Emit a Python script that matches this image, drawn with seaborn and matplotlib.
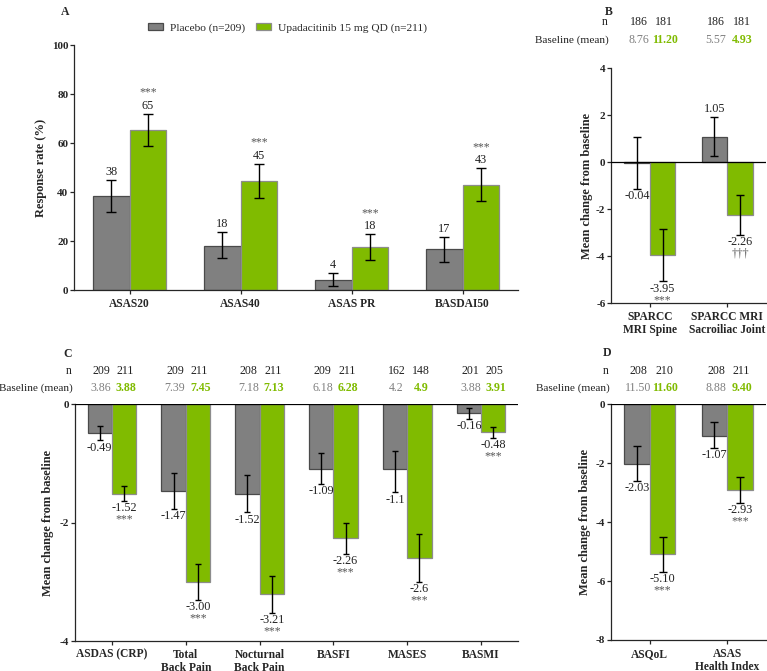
import numpy as np
import pandas as pd
import matplotlib
matplotlib.use('Agg')
import matplotlib.pyplot as plt
import matplotlib.transforms as mtransforms
from matplotlib.patches import Patch
import seaborn as sns

sns.set_style('ticks')
plt.rcParams['font.family'] = ['Liberation Serif', 'DejaVu Serif']
plt.rcParams['axes.linewidth'] = 0.9
plt.rcParams['xtick.major.width'] = 0.9
plt.rcParams['ytick.major.width'] = 0.9
plt.rcParams['xtick.major.size'] = 3
plt.rcParams['ytick.major.size'] = 3

grey = '#808080'
green = '#80bb00'
groups = ['Placebo (n=209)', 'Upadacitinib 15 mg QD (n=211)']

# Panel A - response rates
a_cats = ['ASAS20', 'ASAS40', 'ASAS PR', 'BASDAI50']
a_pbo = [38.2, 18.0, 4.2, 16.7]
a_upa = [65.3, 44.5, 17.5, 43.0]
a_pbo_lo = [31.7, 12.9, 1.6, 11.6]
a_pbo_hi = [44.9, 23.5, 7.1, 21.8]
a_upa_lo = [58.9, 37.7, 12.2, 36.3]
a_upa_hi = [71.8, 51.4, 22.7, 49.7]
a_pbo_lab = ['38', '18', '4', '17']
a_upa_lab = ['65', '45', '18', '43']
a_sig = ['***', '***', '***', '***']

# Panel B - MRI
b_cats = ['SPARCC\nMRI Spine', 'SPARCC MRI\nSacroiliac Joint']
b_pbo = [-0.04, 1.05]
b_upa = [-3.95, -2.26]
b_pbo_lo = [-1.13, 0.24]
b_pbo_hi = [1.08, 1.90]
b_upa_lo = [-5.08, -3.09]
b_upa_hi = [-2.84, -1.42]
b_pbo_lab = ['-0.04', '1.05']
b_upa_lab = ['-3.95', '-2.26']
b_sig = ['***', '†††']
b_n_pbo = ['186', '186']
b_n_upa = ['181', '181']
b_base_pbo = ['8.76', '5.57']
b_base_upa = ['11.20', '4.93']

# Panel C
c_cats = ['ASDAS (CRP)', 'Total\nBack Pain', 'Nocturnal\nBack Pain', 'BASFI', 'MASES', 'BASMI']
c_pbo = [-0.49, -1.47, -1.52, -1.09, -1.10, -0.16]
c_upa = [-1.52, -3.00, -3.21, -2.26, -2.60, -0.48]
c_pbo_lo = [-0.61, -1.77, -1.83, -1.35, -1.49, -0.25]
c_pbo_hi = [-0.37, -1.16, -1.19, -0.83, -0.80, -0.06]
c_upa_lo = [-1.63, -3.30, -3.52, -2.53, -3.00, -0.57]
c_upa_hi = [-1.39, -2.70, -2.90, -2.00, -2.20, -0.38]
c_pbo_lab = ['-0.49', '-1.47', '-1.52', '-1.09', '-1.1', '-0.16']
c_upa_lab = ['-1.52', '-3.00', '-3.21', '-2.26', '-2.6', '-0.48']
c_sig = ['***'] * 6
c_n_pbo = ['209', '209', '208', '209', '162', '201']
c_n_upa = ['211', '211', '211', '211', '148', '205']
c_base_pbo = ['3.86', '7.39', '7.18', '6.18', '4.2', '3.88']
c_base_upa = ['3.88', '7.45', '7.13', '6.28', '4.9', '3.91']

# Panel D
d_cats = ['ASQoL', 'ASAS\nHealth Index']
d_pbo = [-2.03, -1.07]
d_upa = [-5.10, -2.93]
d_pbo_lo = [-2.60, -1.49]
d_pbo_hi = [-1.41, -0.62]
d_upa_lo = [-5.68, -3.34]
d_upa_hi = [-4.51, -2.49]
d_pbo_lab = ['-2.03', '-1.07']
d_upa_lab = ['-5.10', '-2.93']
d_sig = ['***', '***']
d_n_pbo = ['208', '208']
d_n_upa = ['210', '211']
d_base_pbo = ['11.50', '8.88']
d_base_upa = ['11.60', '9.40']

fig = plt.figure(figsize=(7.67, 6.71), dpi=100)
axA = fig.add_axes([0.0965, 0.5678, 0.5789, 0.3651])
axB = fig.add_axes([0.7966, 0.5484, 0.2021, 0.3502])
axC = fig.add_axes([0.0978, 0.0447, 0.5776, 0.3532])
axD = fig.add_axes([0.7966, 0.0462, 0.2021, 0.3517])


def label(ax, x, v, lo, hi, txt, sig=None):
    if v >= 0:
        ax.annotate(txt, (x, hi), xytext=(0, 1.5), textcoords='offset points',
                    ha='center', va='bottom', fontsize=8.8, color='#222222')
        if sig:
            ax.annotate(sig, (x, hi), xytext=(0, 11), textcoords='offset points',
                        ha='center', va='bottom', fontsize=8.5, color='#555555')
    else:
        ax.annotate(txt, (x, lo), xytext=(0, -1), textcoords='offset points',
                    ha='center', va='top', fontsize=8.8, color='#222222')
        if sig:
            ax.annotate(sig, (x, lo), xytext=(0, -9), textcoords='offset points',
                        ha='center', va='top', fontsize=8.5, color='#555555')


def panel(ax, cats, pbo, upa, plo, phi, ulo, uhi, plab, ulab, sig, ylim, yticks,
          ylabel, cap):
    df = pd.DataFrame({
        'cat': cats + cats,
        'val': pbo + upa,
        'grp': [groups[0]] * len(cats) + [groups[1]] * len(cats),
    })
    sns.barplot(data=df, x='cat', y='val', hue='grp', hue_order=groups,
                palette=[grey, green], width=0.66, errorbar=None, ax=ax,
                legend=False, saturation=1, linewidth=0.9)
    edges = ['#4a4a4a', '#8c8c8c']
    centers = []
    for k, cont in enumerate(ax.containers):
        xs = [p.get_x() + p.get_width() / 2 for p in cont]
        for p in cont:
            p.set_edgecolor(edges[k])
        centers.append(xs)
    vals = [pbo, upa]
    los = [plo, ulo]
    his = [phi, uhi]
    labs = [plab, ulab]
    for k in range(2):
        v = np.array(vals[k])
        err = [v - np.array(los[k]), np.array(his[k]) - v]
        ax.errorbar(centers[k], v, yerr=err, fmt='none', ecolor='black',
                    elinewidth=1.0, capsize=cap, capthick=1.0, zorder=5)
        for i in range(len(cats)):
            s = sig[i] if k == 1 else None
            label(ax, centers[k][i], vals[k][i], los[k][i], his[k][i], labs[k][i], s)
    ax.set_xlim(-0.5, len(cats) - 0.5)
    ax.set_ylim(*ylim)
    ax.set_yticks(yticks)
    ax.set_yticklabels([str(t) for t in yticks], fontweight='bold', fontsize=8)
    ax.set_xticks(range(len(cats)))
    ax.set_xticklabels(cats, fontweight='bold', fontsize=8.3, linespacing=1.1)
    ax.set_xlabel('')
    ax.set_ylabel(ylabel, fontweight='bold', fontsize=9)
    ax.tick_params(axis='y', pad=1)
    ax.tick_params(axis='x', pad=2.5)
    sns.despine(ax=ax)
    if ylim[0] < 0:
        ax.axhline(0, color='black', lw=0.9, zorder=4)
    return centers


panel(axA, a_cats, a_pbo, a_upa, a_pbo_lo, a_pbo_hi, a_upa_lo, a_upa_hi,
      a_pbo_lab, a_upa_lab, a_sig, (0, 100), [0, 20, 40, 60, 80, 100],
      'Response rate (%)', 3.3)
cB = panel(axB, b_cats, b_pbo, b_upa, b_pbo_lo, b_pbo_hi, b_upa_lo, b_upa_hi,
           b_pbo_lab, b_upa_lab, b_sig, (-6, 4), [-6, -4, -2, 0, 2, 4],
           'Mean change from baseline', 3)
cC = panel(axC, c_cats, c_pbo, c_upa, c_pbo_lo, c_pbo_hi, c_upa_lo, c_upa_hi,
           c_pbo_lab, c_upa_lab, c_sig, (-4, 0), [-4, -2, 0],
           'Mean change from baseline', 2.4)
cD = panel(axD, d_cats, d_pbo, d_upa, d_pbo_lo, d_pbo_hi, d_upa_lo, d_upa_hi,
           d_pbo_lab, d_upa_lab, d_sig, (-8, 0), [-8, -6, -4, -2, 0],
           'Mean change from baseline', 3)
axA.yaxis.set_label_coords(-0.061, 0.5)
axB.yaxis.set_label_coords(-0.116, 0.5)
axC.yaxis.set_label_coords(-0.047, 0.5)
axD.yaxis.set_label_coords(-0.129, 0.5)


def header(ax, centers, n_pbo, n_upa, base_pbo, base_upa, y_n, y_b, x_lab):
    tr = mtransforms.blended_transform_factory(ax.transData, fig.transFigure)
    fig.text(x_lab - 0.002, y_n, 'n', ha='right', va='center', fontsize=8.5,
             color='#222222')
    fig.text(x_lab, y_b, 'Baseline (mean)', ha='right', va='center', fontsize=8.1,
             color='#222222')
    for i in range(len(n_pbo)):
        ax.text(centers[0][i] + 0.02, y_n, n_pbo[i], transform=tr, ha='center',
                va='center', fontsize=8.6, color='#222222')
        ax.text(centers[1][i] + 0.02, y_n, n_upa[i], transform=tr, ha='center',
                va='center', fontsize=8.6, color='#222222')
        ax.text(centers[0][i] + 0.02, y_b, base_pbo[i], transform=tr, ha='center',
                va='center', fontsize=8.6, color=grey)
        ax.text(centers[1][i] + 0.03, y_b, base_upa[i], transform=tr, ha='center',
                va='center', fontsize=8.6, color=green, fontweight='bold')


header(axB, cB, b_n_pbo, b_n_upa, b_base_pbo, b_base_upa, 0.967, 0.940, 0.794)
header(axC, cC, c_n_pbo, c_n_upa, c_base_pbo, c_base_upa, 0.447, 0.422, 0.0955)
header(axD, cD, d_n_pbo, d_n_upa, d_base_pbo, d_base_upa, 0.447, 0.422, 0.795)

handles = [Patch(facecolor=grey, edgecolor='#4a4a4a', lw=0.9),
           Patch(facecolor=green, edgecolor='#8c8c8c', lw=0.9)]
fig.legend(handles, groups, loc='center left', bbox_to_anchor=(0.193, 0.958),
           ncol=2, frameon=False, fontsize=8.2, handlelength=1.3, handleheight=0.6,
           columnspacing=1.0, handletextpad=0.6, borderaxespad=0, borderpad=0)

for t, x, y in [('A', 0.079, 0.982), ('B', 0.788, 0.982), ('C', 0.083, 0.472),
                ('D', 0.786, 0.474)]:
    fig.text(x, y, t, ha='left', va='center', fontsize=8.5, fontweight='bold')

fig.savefig('out.png', dpi=100)
